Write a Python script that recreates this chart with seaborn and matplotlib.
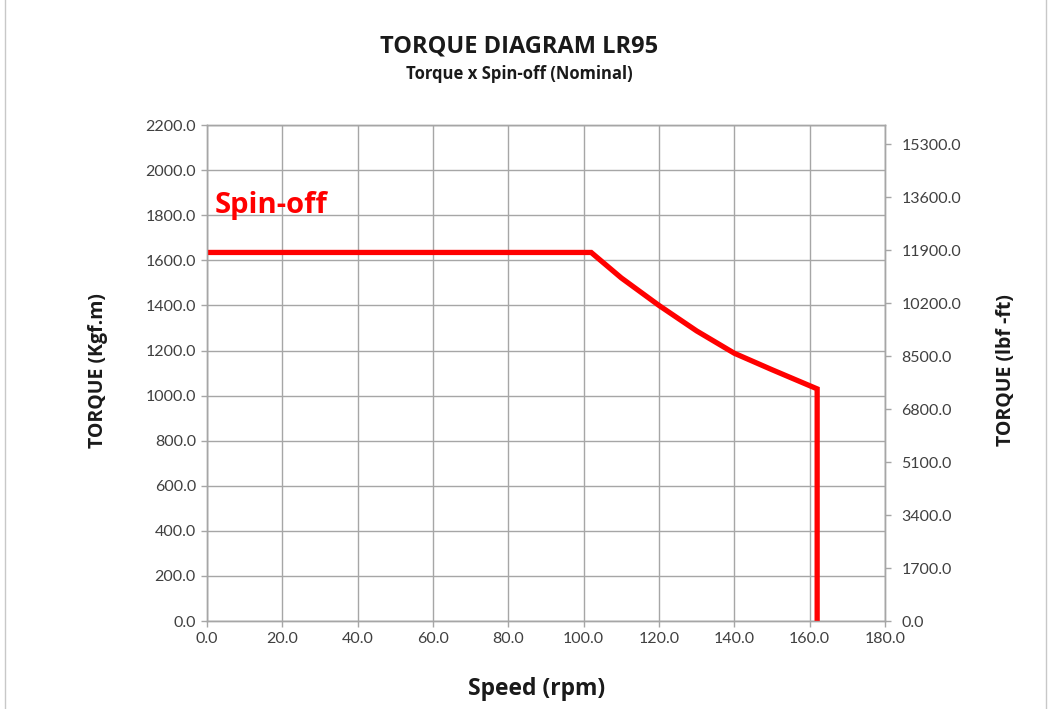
import numpy as np
import pandas as pd
import matplotlib
matplotlib.use("Agg")
import matplotlib.pyplot as plt
from matplotlib.ticker import FormatStrFormatter
from matplotlib.patches import Rectangle
import seaborn as sns

# Spin-off torque curve (kgf.m) against speed (rpm)
speed_rpm = [0.0, 102.0, 110.0, 120.0, 130.0, 140.0, 150.0, 162.0, 162.0]
torque_kgfm = [1635.0, 1635.0, 1522.0, 1400.0, 1287.0, 1188.0, 1115.0, 1030.0, 0.0]

x_ticks = [0, 20, 40, 60, 80, 100, 120, 140, 160, 180]
y_ticks_left = [0, 200, 400, 600, 800, 1000, 1200, 1400, 1600, 1800, 2000, 2200]
y_ticks_right = [0, 1700, 3400, 5100, 6800, 8500, 10200, 11900, 13600, 15300]
KGFM_TO_LBFFT = 7.233

sns.set_theme(style="white")
plt.rcParams["font.family"] = ["Lato", "DejaVu Sans"]

df = pd.DataFrame({"speed": speed_rpm, "torque": torque_kgfm})

fig = plt.figure(figsize=(10.51, 7.09), dpi=100)
fig.patches.append(Rectangle((0.005, -0.01), 0.99, 1.02, transform=fig.transFigure,
                             fill=False, edgecolor="#c8c8c8", linewidth=1.0))
ax = fig.add_axes([0.197, 0.124, 0.645, 0.6996])

grid_c = "#a6a6a6"
label_c = "#404040"
bold_family = ["Open Sans", "DejaVu Sans"]

sns.lineplot(data=df, x="speed", y="torque", ax=ax, sort=False, estimator=None,
             color="#ff0000", linewidth=3.8, solid_joinstyle="miter", zorder=5)

ax.set_xlim(0, 180)
ax.set_ylim(0, 2200)
ax.set_xticks(x_ticks)
ax.set_yticks(y_ticks_left)
ax.xaxis.set_major_formatter(FormatStrFormatter("%.1f"))
ax.yaxis.set_major_formatter(FormatStrFormatter("%.1f"))
ax.grid(True, color=grid_c, linewidth=1.0)
ax.set_axisbelow(True)
for side in ["left", "right", "bottom", "top"]:
    ax.spines[side].set_color(grid_c)
    ax.spines[side].set_linewidth(1.0)
ax.tick_params(axis="both", which="major", length=4, width=1.0, color=grid_c,
               labelsize=11.5, labelcolor=label_c, direction="out", pad=4)
ax.tick_params(axis="x", bottom=True)
ax.tick_params(axis="y", left=True)
ax.set_xlabel("")
ax.set_ylabel("")

# Secondary axis in lbf-ft
ax2 = ax.twinx()
ax2.set_ylim(0, 2200 * KGFM_TO_LBFFT)
ax2.set_yticks(y_ticks_right)
ax2.yaxis.set_major_formatter(FormatStrFormatter("%.1f"))
for side in ["left", "right", "bottom", "top"]:
    ax2.spines[side].set_color(grid_c)
    ax2.spines[side].set_linewidth(1.0)
ax2.tick_params(axis="y", right=True, length=4, width=1.0, color=grid_c,
                labelsize=11.5, labelcolor=label_c, direction="out", pad=8)
ax2.grid(False)

ax.text(2, 1845, "Spin-off", color="#ff0000", fontsize=21, fontweight="bold",
        family=bold_family, va="center", ha="left")

fig.text(0.494, 0.934, "TORQUE DIAGRAM LR95", ha="center", va="center",
         fontsize=17, fontweight="bold", color="#1a1a1a", family=bold_family)
fig.text(0.494, 0.896, "Torque x Spin-off (Nominal)", ha="center", va="center",
         fontsize=12, fontweight="bold", color="#1a1a1a", family=bold_family)
fig.text(0.511, 0.028, "Speed (rpm)", ha="center", va="center",
         fontsize=16.5, fontweight="bold", color="#1a1a1a", family=bold_family)
fig.text(0.093, 0.478, "TORQUE (Kgf.m)", ha="center", va="center", rotation=90,
         fontsize=14, fontweight="bold", color="#1a1a1a", family=bold_family)
fig.text(0.957, 0.478, "TORQUE (lbf -ft)", ha="center", va="center", rotation=90,
         fontsize=14, fontweight="bold", color="#1a1a1a", family=bold_family)

fig.savefig("out.png", dpi=100)
